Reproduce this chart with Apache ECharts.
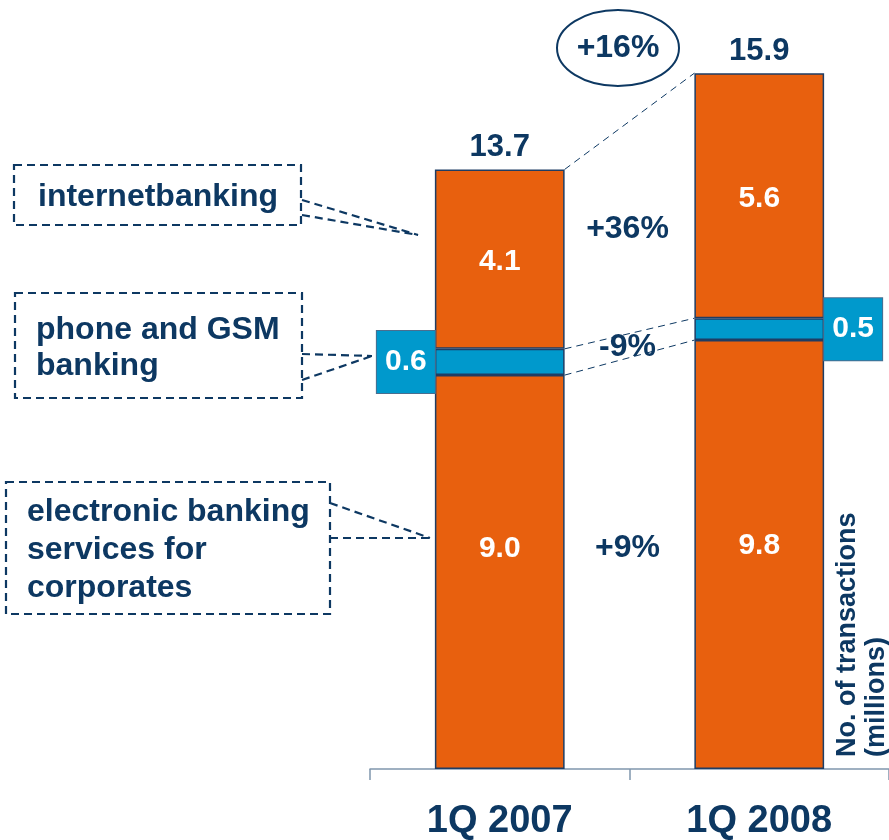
<!DOCTYPE html>
<html><head><meta charset="utf-8">
<script src="https://cdn.jsdelivr.net/npm/echarts/dist/echarts.min.js"></script>
<style>html,body{margin:0;padding:0;background:#fff}#c{width:889px;height:840px}</style>
</head><body><div id="c"></div>
<script>
const categories = ['1Q 2007', '1Q 2008'];
const corporates = [9.0, 9.8];
const phoneGsm = [0.6, 0.5];
const internet = [4.1, 5.6];
const totals = [13.7, 15.9];
const changeInternet = '+36%';
const changePhone = '-9%';
const changeCorporates = '+9%';
const changeTotal = '+16%';
const calloutInternet = 'internetbanking';
const calloutPhone = 'phone and GSM\nbanking';
const calloutCorporates = 'electronic banking\nservices for\ncorporates';
const axisName = 'No. of transactions\n(millions)';

const ORANGE = '#E8600E';
const BLUE = '#0099CC';
const NAVY = '#0D3862';
const BORDER = '#1E3D64';
const FONT = '"Liberation Sans", Arial, sans-serif';

const fmt = p => Number(p.value).toFixed(1);

const option = {
  animation: false,
  grid: { left: 370, right: 0, top: 25, bottom: 71, containLabel: false, outerBoundsMode: 'none' },
  xAxis: {
    type: 'category', data: categories,
    axisLine: { lineStyle: { color: '#8096AD', width: 1.5 } },
    axisTick: { show: true, length: 11, lineStyle: { color: '#8096AD', width: 1.5 } },
    axisLabel: { color: NAVY, fontSize: 38, fontWeight: 'bold', fontFamily: FONT, margin: 34 }
  },
  yAxis: { type: 'value', min: 0, max: 17, show: false, splitLine: { show: false } },
  series: [
    {
      type: 'bar', stack: 'a', barWidth: '50%',
      data: corporates.map((v, i) => ({ value: v, label: { position: ['50%', i === 0 ? '44%' : '48%'] } })),
      itemStyle: { color: ORANGE, borderColor: BORDER, borderWidth: 1.5 },
      label: { show: true, align: 'center', verticalAlign: 'middle',
        formatter: fmt, color: '#fff', fontSize: 30, fontWeight: 'bold', fontFamily: FONT }
    },
    {
      type: 'bar', stack: 'a', barWidth: '50%',
      data: phoneGsm.map((v, i) => ({ value: v, label: { position: i === 0 ? 'left' : 'right' } })),
      itemStyle: { color: BLUE, borderColor: BORDER, borderWidth: 1.5 },
      label: { show: true, distance: 0,
        formatter: p => '{v|' + Number(p.value).toFixed(1) + '}',
        rich: { v: { width: 58, height: 62, lineHeight: 62, align: 'center', backgroundColor: BLUE,
          borderColor: '#4A6E8F', borderWidth: 1, color: '#fff', fontSize: 30, fontWeight: 'bold', fontFamily: FONT } } }
    },
    {
      type: 'bar', stack: 'a', data: internet, barWidth: '50%',
      itemStyle: { color: ORANGE, borderColor: BORDER, borderWidth: 1.5 },
      label: { show: true, position: 'inside', offset: [0, 3], formatter: fmt, color: '#fff', fontSize: 30, fontWeight: 'bold', fontFamily: FONT }
    },
    {
      type: 'scatter', data: totals, symbol: 'circle', symbolSize: 1, itemStyle: { color: 'rgba(0,0,0,0)', opacity: 1 }, silent: true,
      label: { show: true, position: 'top', distance: 6, formatter: fmt, color: NAVY, opacity: 1, fontSize: 31, fontWeight: 'bold', fontFamily: FONT }
    }
  ]
};

const chart = echarts.init(document.getElementById('c'));
chart.setOption(option);

const px = (i, v) => chart.convertToPixel({ gridIndex: 0 }, [i, v]);
const x0 = px(0, 0)[0], x1 = px(1, 0)[0];
const half = (x1 - x0) * 0.25;
const yv = v => px(0, v)[1];
const mid = (x0 + x1) / 2 - 2;

const thinDash = { stroke: NAVY, lineWidth: 1, lineDash: [7, 5], fill: null };
const thickDash = { stroke: NAVY, lineWidth: 2.2, lineDash: [8, 5], fill: null };
const line = (a, b, s) => ({ type: 'line', shape: { x1: a[0], y1: a[1], x2: b[0], y2: b[1] }, style: s, z: 10 });
const txt = (x, y, t, size, opts) => Object.assign({ type: 'text', x: x, y: y, z: 20,
  style: Object.assign({ text: t, fill: NAVY, font: 'bold ' + size + 'px ' + FONT, textAlign: 'center', textVerticalAlign: 'middle' }, (opts || {})) });

const g = [
  line([x0 + half, yv(totals[0])], [x1 - half, yv(totals[1])], thinDash),
  line([x0 + half, yv(corporates[0] + phoneGsm[0])], [x1 - half, yv(corporates[1] + phoneGsm[1])], thinDash),
  line([x0 + half, yv(corporates[0])], [x1 - half, yv(corporates[1])], thinDash),
  txt(mid, 229, changeInternet, 32),
  txt(mid, 347, changePhone, 32),
  txt(mid, 548, changeCorporates, 32),
  { type: 'ellipse', shape: { cx: 618, cy: 48, rx: 61, ry: 38 }, style: { stroke: NAVY, lineWidth: 2, fill: '#fff' }, z: 15 },
  txt(618, 48, changeTotal, 32),
  { type: 'rect', shape: { x: 14, y: 165, width: 287, height: 60 }, style: thickDash, z: 10 },
  { type: 'rect', shape: { x: 15, y: 293, width: 287, height: 105 }, style: thickDash, z: 10 },
  { type: 'rect', shape: { x: 6, y: 482, width: 324, height: 132 }, style: thickDash, z: 10 },
  line([302, 200], [418, 235], thickDash),
  line([302, 215], [418, 235], thickDash),
  line([302, 354], [372, 356], thickDash),
  line([302, 380], [372, 356], thickDash),
  line([330, 503], [430, 538], thickDash),
  line([330, 538], [430, 538], thickDash),
  txt(38, 197, calloutInternet, 32, { textAlign: 'left' }),
  txt(36, 348, calloutPhone, 32, { textAlign: 'left', lineHeight: 36 }),
  txt(27, 550, calloutCorporates, 32, { textAlign: 'left', lineHeight: 38 }),
  { type: 'text', x: 833, y: 757, rotation: Math.PI / 2, z: 20,
    style: { text: axisName, fill: NAVY, font: 'bold 27px ' + FONT, textAlign: 'left', textVerticalAlign: 'top', lineHeight: 29 } }
];
chart.setOption({ graphic: g });
</script>
</body></html>
